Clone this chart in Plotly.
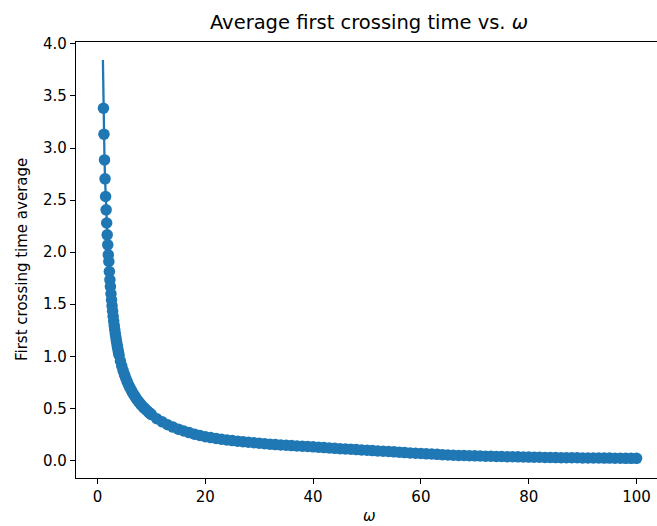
import plotly.graph_objects as go

# omega values
omega_steep = [1.0, 1.1, 1.2, 1.3, 1.4, 1.5, 1.6, 1.7, 1.8, 1.9, 2.0, 2.1, 2.2, 2.3, 2.4,
               2.5, 2.6, 2.7, 2.8, 2.9, 3.0, 3.1, 3.2, 3.3, 3.4, 3.5, 3.6, 3.7, 3.8, 3.9, 4.0]
time_steep = [3.845, 3.382, 3.132, 2.886, 2.704, 2.534, 2.406, 2.280, 2.166, 2.070, 1.974,
              1.910, 1.814, 1.734, 1.670, 1.600, 1.540, 1.485, 1.433, 1.384, 1.338, 1.296,
              1.256, 1.219, 1.184, 1.151, 1.120, 1.090, 1.062, 1.036, 1.010]

omega_mid = [4.25, 4.5, 4.75, 5.0, 5.25, 5.5, 5.75, 6.0, 6.25, 6.5, 6.75, 7.0, 7.25, 7.5,
             7.75, 8.0, 8.25, 8.5, 8.75, 9.0, 9.25, 9.5, 9.75]
time_mid = [0.955, 0.907, 0.863, 0.824, 0.789, 0.756, 0.727, 0.700, 0.675, 0.652, 0.630,
            0.610, 0.590, 0.573, 0.556, 0.540, 0.525, 0.511, 0.498, 0.486, 0.474, 0.462, 0.451]

omega_tail = [10, 11, 12, 13, 14, 15, 16, 17, 18, 19, 20, 21, 22, 23, 24, 25, 26, 27, 28, 29,
              30, 31, 32, 33, 34, 35, 36, 37, 38, 39, 40, 41, 42, 43, 44, 45, 46, 47, 48, 49,
              50, 51, 52, 53, 54, 55, 56, 57, 58, 59, 60, 61, 62, 63, 64, 65, 66, 67, 68, 69,
              70, 71, 72, 73, 74, 75, 76, 77, 78, 79, 80, 81, 82, 83, 84, 85, 86, 87, 88, 89,
              90, 91, 92, 93, 94, 95, 96, 97, 98, 99, 100]
time_tail = [0.440, 0.400, 0.370, 0.342, 0.320, 0.300, 0.282, 0.267, 0.252, 0.239,
             0.227, 0.219, 0.211, 0.203, 0.196, 0.190, 0.185, 0.180, 0.175, 0.170,
             0.165, 0.161, 0.156, 0.152, 0.148, 0.145, 0.142, 0.139, 0.136, 0.133,
             0.130, 0.127, 0.123, 0.120, 0.116, 0.113, 0.110, 0.107, 0.104, 0.100,
             0.097, 0.094, 0.091, 0.088, 0.085, 0.082, 0.079, 0.075, 0.072, 0.069,
             0.066, 0.063, 0.061, 0.058, 0.055, 0.053, 0.050, 0.048, 0.047, 0.045,
             0.044, 0.042, 0.041, 0.040, 0.038, 0.037, 0.036, 0.035, 0.034, 0.033,
             0.032, 0.031, 0.030, 0.029, 0.028, 0.027, 0.026, 0.026, 0.025, 0.025,
             0.024, 0.024, 0.023, 0.023, 0.022, 0.022, 0.021, 0.021, 0.020, 0.020, 0.020]

x_ticks = [0, 20, 40, 60, 80, 100]
y_ticks = [0.0, 0.5, 1.0, 1.5, 2.0, 2.5, 3.0, 3.5, 4.0]
y_tick_labels = ["0.0", "0.5", "1.0", "1.5", "2.0", "2.5", "3.0", "3.5", "4.0"]

omega = omega_steep + omega_mid + omega_tail
time_avg = time_steep + time_mid + time_tail

BLUE = "#1f77b4"
FONT = "DejaVu Sans"

fig = go.Figure()
fig.add_trace(go.Scatter(x=omega, y=time_avg, mode="lines",
                         line=dict(color=BLUE, width=2.3), hoverinfo="skip"))
fig.add_trace(go.Scatter(x=omega[1:], y=time_avg[1:], mode="markers",
                         marker=dict(color=BLUE, size=11.5, line=dict(width=0))))

fig.update_layout(
    width=657, height=526,
    margin=dict(l=76, r=0, t=42, b=48),
    paper_bgcolor="white", plot_bgcolor="white",
    showlegend=False,
    font=dict(family=FONT, color="black", size=15),
    title=dict(text="Average first crossing time vs. <i>ω</i>",
               x=369 / 657, xref="container", xanchor="center",
               y=1 - 22 / 526, yref="container", yanchor="middle",
               font=dict(family=FONT, size=19.5, color="black")),
    xaxis=dict(range=[-3.99, 103.8], tickvals=x_ticks, ticks="outside", ticklen=5,
               tickwidth=1.2, tickcolor="black", showline=True, linecolor="black",
               linewidth=1.2, mirror=True, showgrid=False, zeroline=False,
               tickfont=dict(family=FONT, size=15, color="black")),
    yaxis=dict(range=[-0.169, 4.018], tickvals=y_ticks, ticktext=y_tick_labels,
               ticks="outside", ticklen=5, tickwidth=1.2, tickcolor="black",
               showline=True, linecolor="black", linewidth=1.2, showgrid=False,
               zeroline=False, tickfont=dict(family=FONT, size=15, color="black")),
    annotations=[
        dict(text="<i>ω</i>", xref="paper", yref="paper", x=(369 - 76) / 581,
             y=(478.3 - 516) / 436, showarrow=False, xanchor="center", yanchor="middle",
             font=dict(family=FONT, size=15, color="black")),
        dict(text="First crossing time average", xref="paper", yref="paper",
             x=(22 - 76) / 581, y=0.5, showarrow=False, textangle=-90,
             xanchor="center", yanchor="middle",
             font=dict(family=FONT, size=15, color="black")),
    ],
)

fig.write_html("out.html",
               config={"displayModeBar": False},
               post_script="document.body.style.margin='0';document.body.style.overflow='hidden';")
